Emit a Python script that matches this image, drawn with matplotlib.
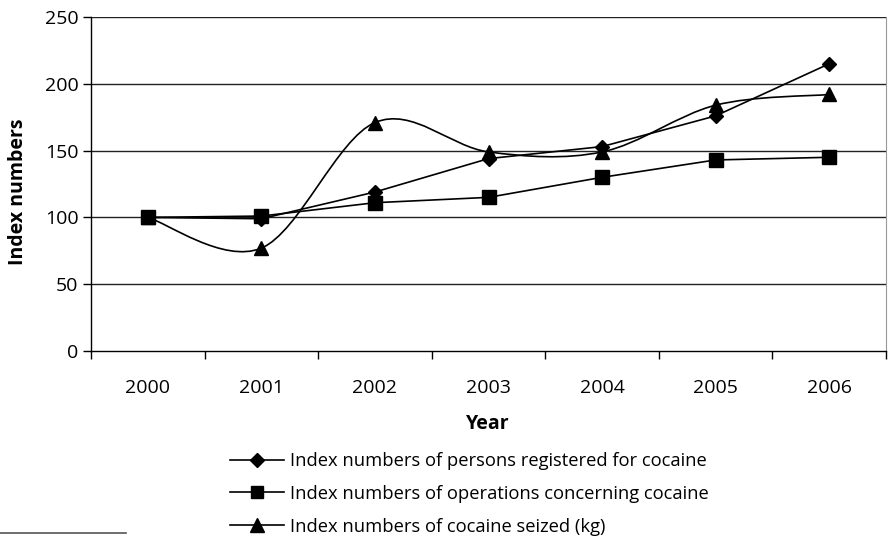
import matplotlib
matplotlib.use("Agg")
import matplotlib.pyplot as plt
from matplotlib.path import Path
from matplotlib.patches import PathPatch
from matplotlib.lines import Line2D
import numpy as np

years = ["2000", "2001", "2002", "2003", "2004", "2005", "2006"]
persons = [100, 99, 119, 144, 153, 176, 215]
operations = [100, 101, 111, 115, 130, 143, 145]
seized = [100, 77, 171, 149, 149, 184, 192]

labels = ["Index numbers of persons registered for cocaine",
          "Index numbers of operations concerning cocaine",
          "Index numbers of cocaine seized (kg)"]

plt.rcParams['font.family'] = ['Open Sans', 'DejaVu Sans']

fig = plt.figure(figsize=(8.88, 5.37), dpi=100)
ax = fig.add_axes([91/888, 1-351/537, (886-91)/888, (351-17)/537])

x = np.arange(len(years))
ax.set_xlim(-0.5, len(years) - 0.5)
ax.set_ylim(0, 250)

for yv in [50, 100, 150, 200, 250]:
    ax.axhline(yv, color='#222222', lw=1.0, zorder=1)

ax.plot(x, persons, color='black', lw=1.2, marker='D', ms=7.5, zorder=3)
ax.plot(x, operations, color='black', lw=1.2, marker='s', ms=9.5, zorder=3)

# smoothed line (Excel-style Catmull-Rom Bezier) for seized
pts = np.column_stack([x, seized]).astype(float)
verts = [tuple(pts[0])]
codes = [Path.MOVETO]
n = len(pts)
for i in range(n - 1):
    p0 = pts[i - 1] if i > 0 else pts[i]
    p1 = pts[i]
    p2 = pts[i + 1]
    p3 = pts[i + 2] if i + 2 < n else pts[i + 1]
    c1 = p1 + (p2 - p0) / 6.0
    c2 = p2 - (p3 - p1) / 6.0
    verts += [tuple(c1), tuple(c2), tuple(p2)]
    codes += [Path.CURVE4] * 3
ax.add_patch(PathPatch(Path(verts, codes), facecolor='none', edgecolor='black', lw=1.2, zorder=3))
ax.plot(x, seized, linestyle='none', color='black', marker='^', ms=10.5, zorder=4)

ax.set_xticks(np.arange(-0.5, len(years), 1.0))
ax.set_xticklabels([])
ax.set_xticks(x, minor=True)
ax.set_xticklabels(years, minor=True, fontsize=14)
ax.tick_params(axis='x', which='minor', length=0, pad=20)
ax.tick_params(axis='x', which='major', length=6, width=1, direction='out', color='black')
ax.set_yticks([0, 50, 100, 150, 200, 250])
ax.set_yticklabels(['0', '50', '100', '150', '200', '250'], fontsize=14)
ax.tick_params(axis='y', length=6, width=1, direction='out', pad=3)

ax.spines['top'].set_visible(False)
ax.spines['right'].set_color('#999999')
ax.spines['left'].set_linewidth(1.0)
ax.spines['bottom'].set_linewidth(1.0)

fig.text(18/888, 1-192/537, 'Index numbers', rotation=90, fontsize=14,
         fontweight='bold', ha='center', va='center')
fig.text(488/888, 1-424/537, 'Year', fontsize=14, fontweight='bold',
         ha='center', va='center')

handles = [
    Line2D([], [], color='black', lw=1.2, marker='D', ms=7),
    Line2D([], [], color='black', lw=1.2, marker='s', ms=9),
    Line2D([], [], color='black', lw=1.2, marker='^', ms=10),
]
fig.legend(handles, labels, loc='upper left', bbox_to_anchor=(221/888, 1-443/537),
           frameon=False, fontsize=13.25, handlelength=2.9, handletextpad=0.33,
           labelspacing=0.8, borderpad=0)

fig.add_artist(Line2D([0, 126/888], [1-533/537, 1-533/537], color='#555555', lw=1.2))

fig.savefig('out.png', dpi=100)
